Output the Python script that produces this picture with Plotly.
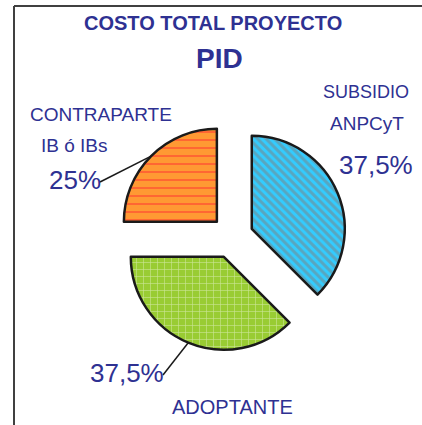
import math
import plotly.graph_objects as go

# ---- data ----
categories = ["SUBSIDIO ANPCyT", "ADOPTANTE", "CONTRAPARTE IB ó IBs"]
values = [37.5, 37.5, 25.0]
pct_text = ["37,5%", "37,5%", "25%"]
colors = ["#33CCFF", "#99CC33", "#FF9933"]
pattern_fg = ["#7F7F7F", "#FFFFFF", "#FF3333"]
pattern_shape = ["\\", "+", "-"]
pulls = [0.23, 0.23, 0.23]

W, H = 422, 425
NAVY = "#2E3192"
FONT = "Liberation Sans, Arial, sans-serif"

def px(x):
    return x / W

def py(y):
    return 1 - y / H

# pie geometry (pixels)
cx, cy, r = 232, 237, 93
ext = r * (1 + max(pulls))
dom_x = [px(cx - ext), px(cx + ext)]
dom_y = [py(cy + ext), py(cy - ext)]

fig = go.Figure(go.Pie(
    labels=categories, values=values, sort=False, direction="clockwise",
    rotation=0, pull=pulls, textinfo="none", showlegend=False,
    hoverinfo="label+percent",
    marker=dict(colors=colors, line=dict(color="#1A1A1A", width=2.5),
                pattern=dict(shape=pattern_shape, fgcolor=pattern_fg,
                             size=[6, 7, 8], solidity=[0.5, 0.16, 0.25],
                             fillmode="overlay")),
    domain=dict(x=dom_x, y=dom_y),
))

# mid-angle of each slice (clockwise from 12 o'clock)
total = sum(values)
mids = []
acc = 0
for v in values:
    mids.append((acc + v / 2) / total * 360)
    acc += v

def arc_point(i):
    a = math.radians(mids[i])
    d = r * (1 + pulls[i])
    return cx + d * math.sin(a), cy - d * math.cos(a)

annots = []
def txt(t, x, y, size, bold=False):
    annots.append(dict(text=("<b>%s</b>" % t) if bold else t, x=px(x), y=py(y),
                       xref="paper", yref="paper", showarrow=False,
                       xanchor="center", yanchor="middle",
                       font=dict(family=FONT, size=size, color=NAVY)))

txt("COSTO TOTAL PROYECTO", 213, 23, 20, bold=True)
txt("PID", 219, 58, 28, bold=True)
txt("SUBSIDIO", 366, 92, 18)
txt("ANPCyT", 367, 123, 19)
txt(pct_text[0], 376, 165, 26)
txt("CONTRAPARTE", 101, 114, 19)
txt("IB ó IBs", 74, 145, 19)
txt(pct_text[2], 75, 180, 26)
txt(pct_text[1], 127, 373, 26)
txt("ADOPTANTE", 232, 407, 20)

shapes = []
# leader lines
for i, start in [(2, (100, 182)), (1, (163, 375))]:
    ex, ey = arc_point(i)
    shapes.append(dict(type="line", xref="paper", yref="paper",
                       x0=px(start[0]), y0=py(start[1]), x1=px(ex), y1=py(ey),
                       line=dict(color="#1A1A1A", width=1.5)))
# frame
shapes.append(dict(type="line", xref="paper", yref="paper", x0=px(14), y0=0,
                   x1=px(14), y1=py(6), line=dict(color="#404040", width=2)))
shapes.append(dict(type="line", xref="paper", yref="paper", x0=px(14), y0=py(6),
                   x1=1, y1=py(6), line=dict(color="#404040", width=2)))

fig.update_layout(width=W, height=H, margin=dict(l=0, r=0, t=0, b=0),
                  paper_bgcolor="white", plot_bgcolor="white",
                  annotations=annots, shapes=shapes)

fig.write_html("out.html")
